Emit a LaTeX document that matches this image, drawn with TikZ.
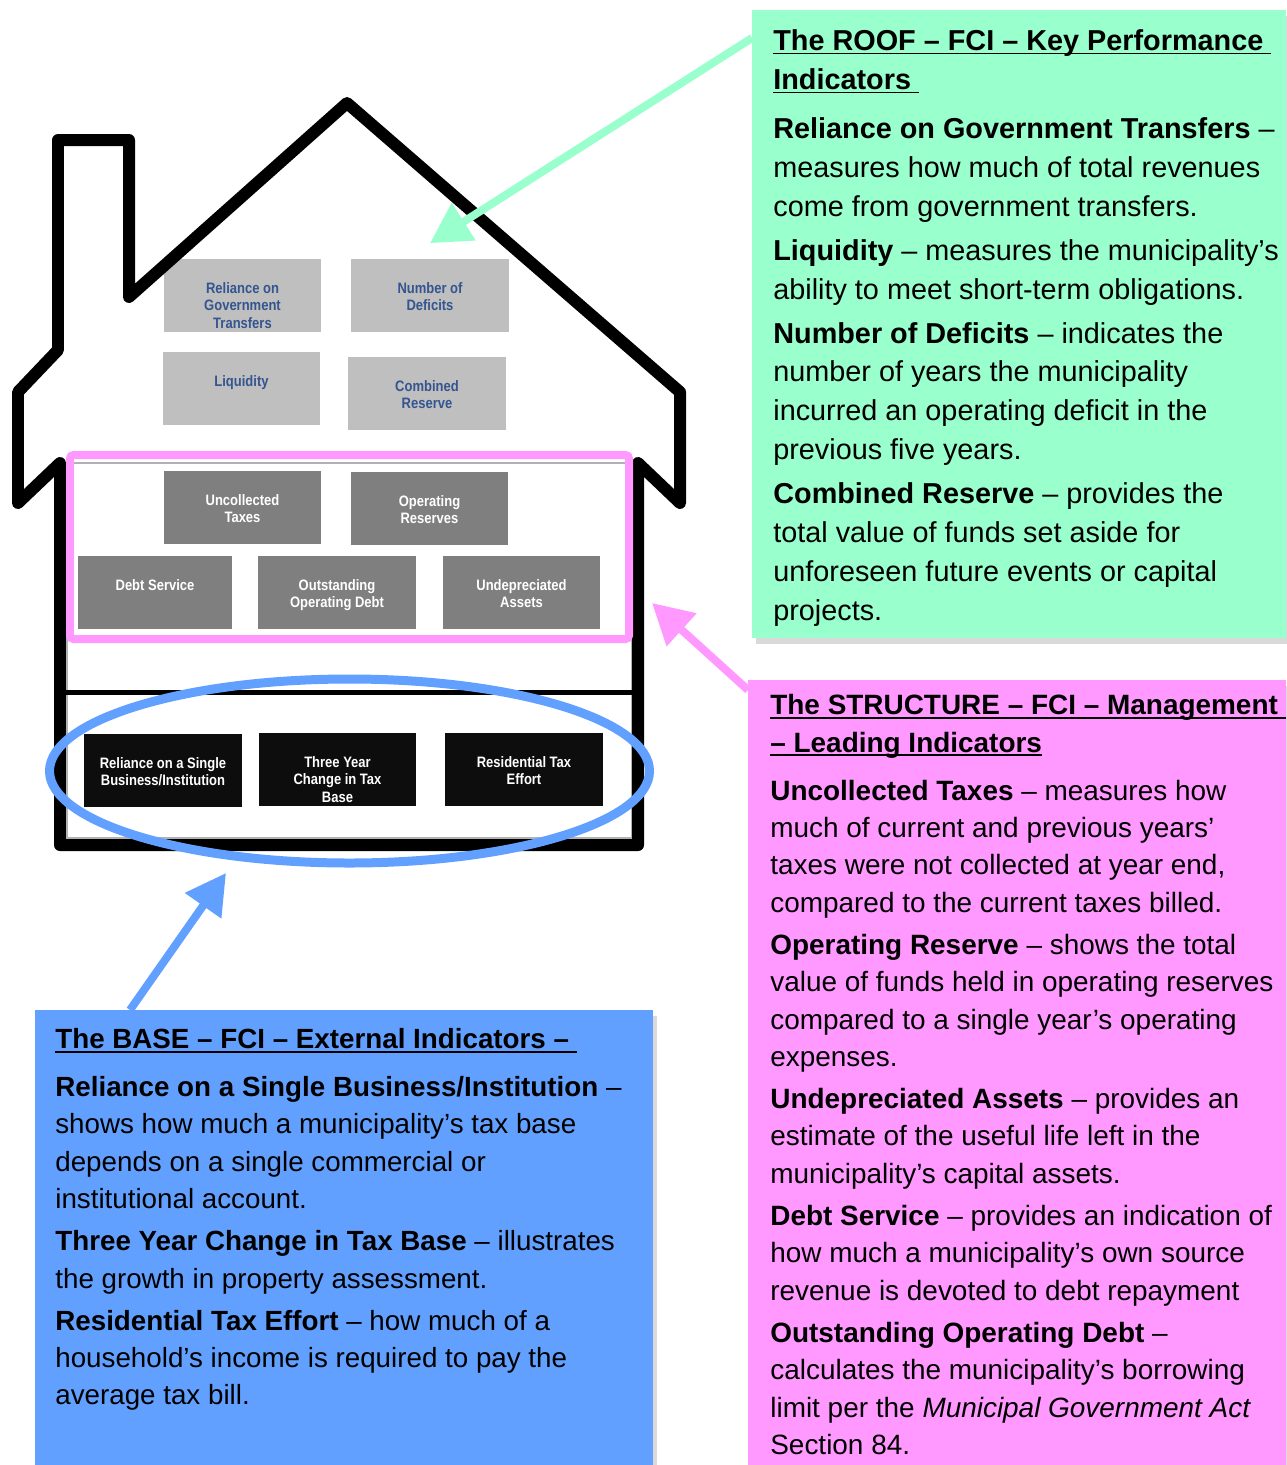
\documentclass[tikz,border=0pt]{standalone}
\usepackage{fontspec}
\setmainfont{Liberation Sans}
\newfontfamily\boxfont[FakeStretch=0.86]{Liberation Sans}
\usetikzlibrary{arrows.meta,shadows}
\definecolor{roofgreen}{HTML}{99FFCC}
\definecolor{structpink}{HTML}{FF99FF}
\definecolor{baseblue}{HTML}{62A0FF}
\definecolor{lightbox}{HTML}{BFBFBF}
\definecolor{midbox}{HTML}{7F7F7F}
\definecolor{darkbox}{HTML}{0D0D0D}
\definecolor{labelblue}{HTML}{34558F}
\newcommand\undertitle[1]{\setbox0\hbox{\textbf{#1}}\rlap{\rule[-2.3pt]{\wd0}{0.9pt}}\box0}
\newcommand\boxlabel[1]{\parbox[c][1.46cm][t]{3.1cm}{\centering\vspace*{0.45cm}\strut#1}}
\begin{document}
\begin{tikzpicture}[x=0.02cm,y=-0.02cm,
    indicator/.style={minimum width=3.16cm,minimum height=1.46cm,inner sep=0pt,
      font=\boxfont\bfseries\fontsize{8.6pt}{9.8pt}\selectfont},
    roofind/.style={indicator,fill=lightbox,text=labelblue},
    structind/.style={indicator,fill=midbox,text=white},
    baseind/.style={indicator,fill=darkbox,text=white},
    panel/.style={anchor=north west,inner sep=0pt,drop shadow={shadow xshift=2pt,shadow yshift=-3pt,opacity=0.3}},
    note/.style={anchor=north west,inner sep=0pt,align=left},
    pointer/.style={line width=0.16cm,-{Triangle[length=0.8cm,width=0.85cm]}}]
    \useasboundingbox (0,0) rectangle (1286,1465);
    % floors of the house
    \draw[gray!60,line width=0.6pt] (67,463) rectangle (632,838);
    \draw[line width=0.1cm] (62,692) -- (636,692);
    % roof
    \node[roofind] (transfers) at (242.5,295.5) {\boxlabel{Reliance on\\Government\\Transfers}};
    \node[roofind] (deficits) at (430,295) {\boxlabel{Number of\\Deficits}};
    \node[roofind] (liquidity) at (241.5,388.5) {\boxlabel{Liquidity}};
    \node[roofind] (combined) at (427,393) {\boxlabel{Combined\\Reserve}};
    % structure
    \node[structind] (uncollected) at (242.5,507.5) {\boxlabel{Uncollected\\Taxes}};
    \node[structind] (opreserve) at (429.5,508.5) {\boxlabel{Operating\\Reserves}};
    \node[structind,minimum width=3.08cm] (debtservice) at (155,592.5) {\boxlabel{Debt Service}};
    \node[structind] (opdebt) at (337,592.5) {\boxlabel{Outstanding\\Operating Debt}};
    \node[structind] (undepreciated) at (521.5,592.5) {\boxlabel{Undepreciated\\Assets}};
    % base
    \node[baseind] (single) at (163,770) {\boxlabel{Reliance on a Single\\Business/Institution}};
    \node[baseind] (threeyear) at (337.5,769.5) {\boxlabel{Three Year\\Change in Tax\\Base}};
    \node[baseind] (restax) at (524,769.5) {\boxlabel{Residential Tax\\Effort}};
    % house outline
    \draw[line width=0.24cm,line join=round] (58,350) -- (58,140) -- (129,140) -- (129,297) -- (347,103)
      -- (680,392) -- (680,503) -- (638,463) -- (638,845) -- (60,845) -- (60,463) -- (18,503) -- (18,392) -- cycle;
    \draw[structpink,line width=0.16cm,rounded corners=2pt] (70,455) rectangle (629,639);
    \draw[baseblue,line width=0.18cm] (349.5,771) ellipse [x radius=300,y radius=92];
    % panels
    \node[panel,fill=roofgreen,minimum width=10.68cm,minimum height=12.56cm] (roofpanel) at (752,10) {};
    \node[panel,fill=structpink,minimum width=10.76cm,minimum height=16cm] (structpanel) at (748,680) {};
    \node[panel,fill=baseblue,minimum width=12.36cm,minimum height=9.2cm] (basepanel) at (35,1010) {};
    \node[note,font=\fontsize{16.4pt}{22.1pt}\selectfont] (roofnote) at (773,29) {%
      \undertitle{The ROOF – FCI – Key Performance\ }\\
      \undertitle{Indicators\ }\\[6pt]
      \textbf{Reliance on Government Transfers} –\\
      measures how much of total revenues\\
      come from government transfers.\\[3pt]
      \textbf{Liquidity} – measures the municipality’s\\
      ability to meet short-term obligations.\\[3pt]
      \textbf{Number of Deficits} – indicates the\\
      number of years the municipality\\
      incurred an operating deficit in the\\
      previous five years.\\[3pt]
      \textbf{Combined Reserve} – provides the\\
      total value of funds set aside for\\
      unforeseen future events or capital\\
      projects.};
    \node[note,font=\fontsize{15.9pt}{21.3pt}\selectfont] (structnote) at (770,694) {%
      \undertitle{The STRUCTURE – FCI – Management\ }\\
      \undertitle{– Leading Indicators}\\[6pt]
      \textbf{Uncollected Taxes} – measures how\\
      much of current and previous years’\\
      taxes were not collected at year end,\\
      compared to the current taxes billed.\\[2.6pt]
      \textbf{Operating Reserve} – shows the total\\
      value of funds held in operating reserves\\
      compared to a single year’s operating\\
      expenses.\\[2.6pt]
      \textbf{Undepreciated Assets} – provides an\\
      estimate of the useful life left in the\\
      municipality’s capital assets.\\[2.6pt]
      \textbf{Debt Service} – provides an indication of\\
      how much a municipality’s own source\\
      revenue is devoted to debt repayment\\[2.6pt]
      \textbf{Outstanding Operating Debt} –\\
      calculates the municipality’s borrowing\\
      limit per the \textit{Municipal Government Act}\\
      Section 84.};
    \node[note,font=\fontsize{15.8pt}{21.3pt}\selectfont] (basenote) at (55,1028) {%
      \undertitle{The BASE – FCI – External Indicators –\ }\\[6pt]
      \textbf{Reliance on a Single Business/Institution} –\\
      shows how much a municipality’s tax base\\
      depends on a single commercial or\\
      institutional account.\\[2.6pt]
      \textbf{Three Year Change in Tax Base} – illustrates\\
      the growth in property assessment.\\[2.6pt]
      \textbf{Residential Tax Effort} – how much of a\\
      household’s income is required to pay the\\
      average tax bill.};
    % pointers
    \coordinate (structTip) at (652,603);
    \coordinate (baseTip) at (226,873);
    \draw[pointer,roofgreen] ([yshift=-0.56cm]roofpanel.north west) -- ([yshift=0.3cm]deficits.north);
    \draw[pointer,structpink] ([yshift=-0.2cm]structpanel.north west) -- (structTip);
    \draw[pointer,baseblue] ([xshift=1.9cm]basepanel.north west) -- (baseTip);
\end{tikzpicture}
\end{document}
